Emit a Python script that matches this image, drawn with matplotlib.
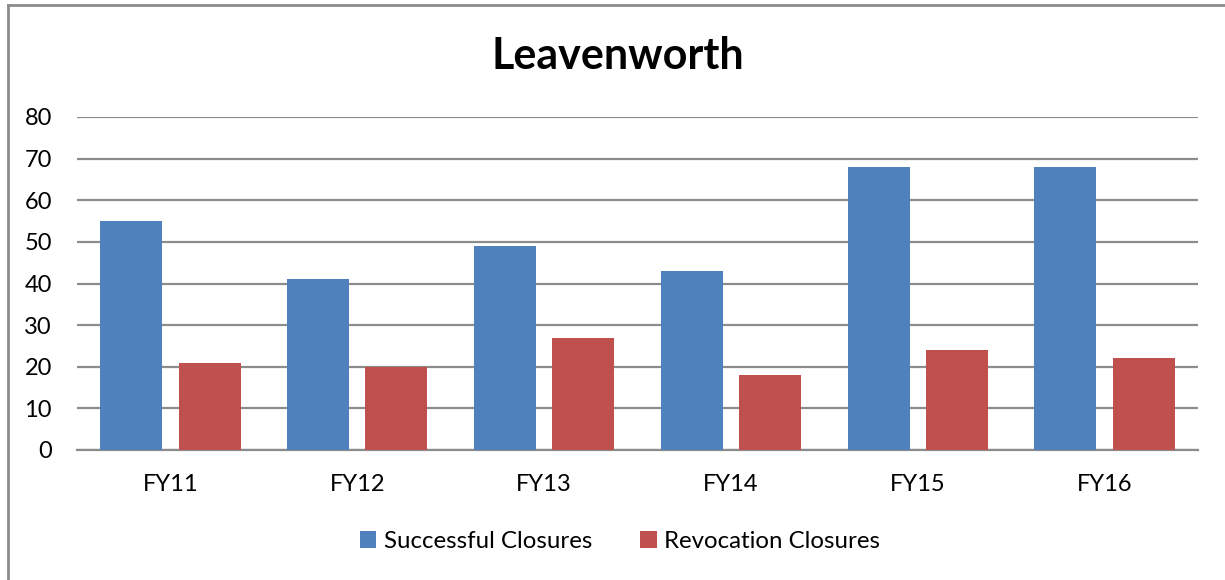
import matplotlib
matplotlib.use("Agg")
import matplotlib.pyplot as plt
import numpy as np
from matplotlib.lines import Line2D

CATEGORIES = ["FY11", "FY12", "FY13", "FY14", "FY15", "FY16"]
SUCCESSFUL = [55, 41, 49, 43, 68, 68]
REVOCATION = [21, 20, 27, 18, 24, 22]
SERIES_LABELS = ["Successful Closures", "Revocation Closures"]
COLORS = ["#4F81BD", "#C0504D"]
GRID_COLOR = "#8C8C8C"

plt.rcParams["font.family"] = ["Lato", "DejaVu Sans"]

fig = plt.figure(figsize=(12.25, 5.8), dpi=100)
ax = fig.add_axes([77 / 1225, 1 - 450 / 580, (1198 - 77) / 1225, (450 - 117) / 580])

x = np.arange(len(CATEGORIES))
width = 0.332
ax.bar(x - 0.21, SUCCESSFUL, width, color=COLORS[0], label=SERIES_LABELS[0], zorder=3)
ax.bar(x + 0.21, REVOCATION, width, color=COLORS[1], label=SERIES_LABELS[1], zorder=3)

ax.set_xlim(-0.5, len(CATEGORIES) - 0.5)
ax.set_ylim(0, 80)
ax.set_yticks(range(0, 81, 10))
ax.set_xticks(x)
ax.set_xticklabels(CATEGORIES)
ax.tick_params(axis="both", length=0, labelsize=17, colors="black")
ax.tick_params(axis="y", pad=18)
ax.tick_params(axis="x", pad=17)
ax.grid(axis="y", color=GRID_COLOR, linewidth=1.6, zorder=0)
for side in ["left", "right", "top"]:
    ax.spines[side].set_visible(False)
ax.spines["bottom"].set_color(GRID_COLOR)
ax.spines["bottom"].set_linewidth(1.6)

fig.suptitle("Leavenworth", x=0.504, y=1 - 56 / 580, va="center", fontsize=31, fontweight="bold")

handles, labels = ax.get_legend_handles_labels()
fig.legend(
    handles,
    labels,
    loc="center",
    bbox_to_anchor=(0.506, 1 - 541 / 580),
    ncol=2,
    frameon=False,
    fontsize=17.3,
    handlelength=0.7,
    handleheight=0.7,
    handletextpad=0.3,
    columnspacing=2.0,
)

# chart frame (left and top edges visible)
fig.add_artist(Line2D([8 / 1225, 8 / 1225], [0, 1 - 5 / 580], color=GRID_COLOR, linewidth=2))
fig.add_artist(Line2D([8 / 1225, 1], [1 - 5 / 580, 1 - 5 / 580], color=GRID_COLOR, linewidth=2))

fig.savefig("out.png", dpi=100)
